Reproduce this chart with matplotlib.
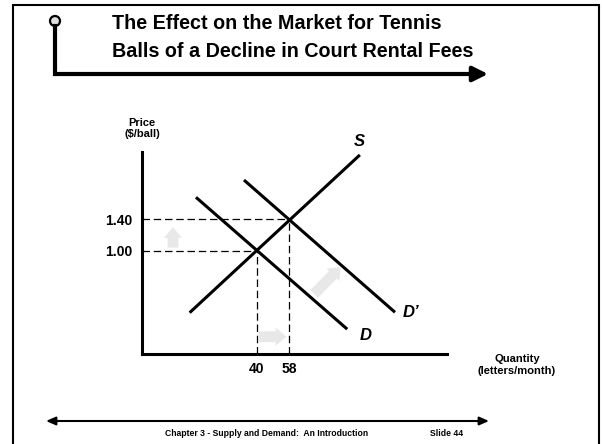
"""
Supply and demand slide: tennis ball market after court rental fees fall.
"""
import matplotlib
matplotlib.use("Agg")
import matplotlib.pyplot as plt
from matplotlib.lines import Line2D
from matplotlib.patches import Ellipse, FancyArrowPatch, Rectangle

plt.rcParams["font.family"] = ["Liberation Sans", "DejaVu Sans"]
plt.rcParams["font.weight"] = "bold"

# equilibrium points (quantity, price)
EQ_QUANTITY = [40, 58]
EQ_PRICE = [1.00, 1.40]

# curve end points (quantity, price)
S_QUANTITY = [3, 97]
S_PRICE = [0.21, 2.22]
D_QUANTITY = [6.5, 90]
D_PRICE = [1.68, 0.0]
D2_QUANTITY = [33, 116.4]
D2_PRICE = [1.90, 0.215]

# grey shift arrows: (start, end)
PRICE_SHIFT = [(-6.2, 1.04), (-6.2, 1.30)]
QUANTITY_SHIFT = [(41.0, -0.096), (56.5, -0.096)]
DEMAND_SHIFT = [(71.8, 0.45), (86.3, 0.79)]

TITLE = "The Effect on the Market for Tennis\nBalls of a Decline in Court Rental Fees"
FOOTER = "Chapter 3 - Supply and Demand:  An Introduction"
SLIDE = "Slide 44"

W, H = 602, 444
GREY = "#e8e8e8"


def fx(px):
    return px / W


def fy(py):
    return 1 - py / H


fig = plt.figure(figsize=(W / 100, H / 100), dpi=100)

# slide frame and header decoration
fig.add_artist(Rectangle((fx(13), fy(448)), fx(599) - fx(13), fy(5) - fy(448),
                         transform=fig.transFigure, fill=False, lw=1.5,
                         ec="black"))
fig.add_artist(Line2D([fx(55), fx(55)], [fy(26), fy(74)],
                      transform=fig.transFigure, lw=3, color="black",
                      solid_capstyle="projecting"))
fig.add_artist(FancyArrowPatch((fx(55), fy(74)), (fx(488), fy(74)),
                               transform=fig.transFigure,
                               arrowstyle="-|>,head_length=0.9,head_width=0.45",
                               mutation_scale=10, lw=3, color="black",
                               shrinkA=0, shrinkB=0))
fig.add_artist(Ellipse((fx(55), fy(21)), 10 / W, 10 / H,
                       transform=fig.transFigure, fc="#e0e0e0", ec="black",
                       lw=1.6))
fig.text(fx(112), fy(37.5), TITLE, fontsize=14.2, fontweight="bold",
         ha="left", va="center", linespacing=1.62)

# footer
fig.add_artist(FancyArrowPatch((fx(46), fy(421)), (fx(489), fy(421)),
                               transform=fig.transFigure,
                               arrowstyle="<|-|>,head_length=0.8,head_width=0.35",
                               mutation_scale=7, lw=1.5, color="black",
                               shrinkA=0, shrinkB=0))
fig.text(fx(267), fy(433), FOOTER, fontsize=6.2, fontweight="bold",
         ha="center", va="center")
fig.text(fx(447), fy(433), SLIDE, fontsize=6.2, fontweight="bold",
         ha="center", va="center")

# market diagram
ax = fig.add_axes([fx(142), fy(353.5), fx(447) - fx(142), fy(152) - fy(353.5)])
q_min, q_max = -23.3, 145.1
p_min, p_max = -0.31, 2.257
ax.set_xlim(q_min, q_max)
ax.set_ylim(p_min, p_max)

for side in ("top", "right"):
    ax.spines[side].set_visible(False)
for side in ("left", "bottom"):
    ax.spines[side].set_linewidth(2.2)

ax.set_xticks(EQ_QUANTITY, labels=[str(q) for q in EQ_QUANTITY])
ax.set_yticks(EQ_PRICE, labels=["{:.2f}".format(p) for p in EQ_PRICE])
ax.tick_params(length=0, labelsize=10)
ax.tick_params(axis="x", pad=6)
ax.tick_params(axis="y", pad=7)
for lab in ax.get_xticklabels() + ax.get_yticklabels():
    lab.set_fontweight("bold")

# dashed guides to the equilibria
dash = dict(color="black", lw=0.9, linestyle=(0, (6, 3)))
for q, p in zip(EQ_QUANTITY, EQ_PRICE):
    ax.plot([q_min, q], [p, p], **dash)
    ax.plot([q, q], [p_min, p], **dash)

# grey shift arrows
for start, end in (PRICE_SHIFT, QUANTITY_SHIFT, DEMAND_SHIFT):
    ax.annotate("", xy=end, xytext=start,
                arrowprops=dict(arrowstyle="simple,head_length=0.6,"
                                           "head_width=1.0,tail_width=0.6",
                                mutation_scale=13, fc=GREY, ec="none",
                                shrinkA=0, shrinkB=0))

# supply and demand curves
ax.plot(S_QUANTITY, S_PRICE, color="black", lw=2.2, solid_capstyle="butt")
ax.plot(D_QUANTITY, D_PRICE, color="black", lw=2.2, solid_capstyle="butt")
ax.plot(D2_QUANTITY, D2_PRICE, color="black", lw=2.2, solid_capstyle="butt")

curve_label = dict(textcoords="offset points", fontsize=12,
                   fontweight="bold", fontstyle="italic",
                   ha="center", va="center", annotation_clip=False)
ax.annotate("S", xy=(S_QUANTITY[1], S_PRICE[1]), xytext=(-0.7, 10),
            **curve_label)
ax.annotate("D", xy=(D_QUANTITY[1], D_PRICE[1]), xytext=(13.5, -4.8),
            **curve_label)
ax.annotate("D\u2019", xy=(D2_QUANTITY[1], D2_PRICE[1]), xytext=(11.5, -0.5),
            **curve_label)

# axis titles
ax.annotate("Price\n($/ball)", xy=(0, 1), xycoords="axes fraction",
            xytext=(0, 17), textcoords="offset points", fontsize=8,
            fontweight="bold", ha="center", va="center", linespacing=1.15,
            annotation_clip=False)
ax.annotate("Quantity\n(letters/month)", xy=(1, 0), xycoords="axes fraction",
            xytext=(50.4, -8.3), textcoords="offset points", fontsize=8,
            fontweight="bold", ha="center", va="center", linespacing=1.15,
            annotation_clip=False)

fig.savefig("out.png", dpi=100)
